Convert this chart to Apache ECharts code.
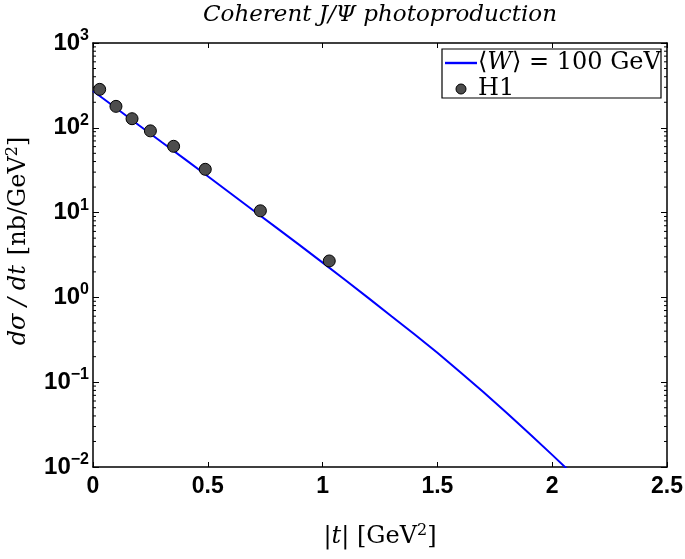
<!DOCTYPE html>
<html>
<head>
<meta charset="utf-8">
<script src="https://cdn.jsdelivr.net/npm/echarts@6/dist/echarts.min.js"></script>
<style>html,body{margin:0;padding:0;background:#fff}#c{width:685px;height:559px}</style>
</head>
<body>
<div id="c"></div>
<script>
// H1 data points
var h1T = [0.029, 0.100, 0.170, 0.250, 0.351, 0.489, 0.729, 1.029];
var h1Val = [284, 179, 128, 92, 60.5, 32.4, 10.5, 2.69];
var h1Err = [14, 9, 6, 5, 3, 1.6, 0.6, 0.38];
// Model curve <W> = 100 GeV
var curveT = [0, 0.1, 0.2, 0.3, 0.4, 0.5, 0.6, 0.7, 0.8, 0.9, 1.0, 1.1, 1.2, 1.3, 1.4, 1.5, 1.6, 1.7, 1.8, 1.9, 2.0, 2.1];
var curveVal = [272, 171, 107, 67.5, 42.7, 26.8, 16.8, 10.5, 6.6, 4.13, 2.57, 1.59, 0.98, 0.600, 0.368, 0.222, 0.131, 0.0765, 0.0440, 0.0248, 0.0139, 0.0077];
// axis ticks
var xTicks = [0, 0.5, 1, 1.5, 2, 2.5];
var yDecades = [0.01, 0.1, 1, 10, 100, 1000];
var yMinor = [];
for (var d = 0; d < yDecades.length - 1; d++) {
  for (var m = 2; m <= 9; m++) yMinor.push(+(m * yDecades[d]).toPrecision(3));
}

var chart = echarts.init(document.getElementById('c'));
var sup = function (v) {
  var e = Math.round(Math.log10(v));
  var s = e < 0 ? '\u2212' + (-e) : '' + e;
  return '{b|10}{s|' + s + '}';
};
var labelRich = {
  b: {fontFamily: 'Liberation Sans', fontWeight: 'bold', fontSize: 24, color: '#000'},
  s: {fontFamily: 'Liberation Sans', fontWeight: 'bold', fontSize: 16, color: '#000', verticalAlign: 'bottom', padding: [0, 0, 15, 0]}
};
var serif = 'DejaVu Serif';
var nameRich = {
  t: {fontFamily: serif, fontSize: 24, color: '#000'},
  i: {fontFamily: serif, fontStyle: 'italic', fontSize: 24, color: '#000'},
  s: {fontFamily: serif, fontSize: 16, color: '#000', verticalAlign: 'bottom', padding: [0, 0, 11, 0]}
};

var option = {
  animation: false,
  backgroundColor: '#fff',
  grid: {left: 93, right: 18, top: 43, bottom: 92, outerBoundsMode: 'none', containLabel: false},
  graphic: [{
    type: 'rect', x: 442, y: 49, z: 90,
    shape: {x: 0, y: 0, width: 219, height: 49},
    style: {fill: '#fff', stroke: '#000', lineWidth: 1.2}
  }, {
    type: 'text', x: 380, y: 15, z: 100,
    style: {
      text: 'Coherent J/\u03A8 photoproduction',
      font: 'italic 23px "DejaVu Serif"', fill: '#000',
      align: 'center', verticalAlign: 'middle'
    }
  }],
  legend: {
    orient: 'vertical', left: 443, top: 49, z: 95,
    padding: [2, 0, 0, 2],
    itemGap: 2,
    itemWidth: 32, itemHeight: 10,
    data: [
      {name: 'W', icon: 'path://M0,0L32,0L32,2.4L0,2.4Z', itemStyle: {color: '#0000ff'}},
      {name: 'H1', icon: 'circle', itemStyle: {color: '#4d4d4d', borderColor: '#000', borderWidth: 1}}
    ],
    formatter: function (n) {
      if (n === 'W') return '{t|\u27E8}{i|W}{t|\u27E9 = 100 GeV}';
      return '{t|H1}';
    },
    textStyle: {
      padding: [0, 0, 0, -4],
      rich: {
        t: {fontFamily: serif, fontSize: 24, color: '#000', lineHeight: 24},
        i: {fontFamily: serif, fontStyle: 'italic', fontSize: 24, color: '#000', lineHeight: 24}
      }
    }
  },
  xAxis: [{
    type: 'value', min: 0, max: 2.5, interval: 0.5,
    position: 'bottom',
    name: '{t||}{i|t}{t|| [GeV}{s|2}{t|]}',
    nameLocation: 'middle', nameGap: 56,
    nameTextStyle: {rich: nameRich},
    axisLine: {show: true, onZero: false, lineStyle: {color: '#000', width: 1.5}},
    axisTick: {show: true, inside: true, length: 5, lineStyle: {color: '#000'}},
    axisLabel: {
      margin: 8, fontFamily: 'Liberation Sans', fontWeight: 'bold', fontSize: 23, color: '#000',
      formatter: function (v) { return String(v); }
    },
    splitLine: {show: false}
  }, {
    type: 'value', min: 0, max: 2.5, interval: 0.5, position: 'top',
    axisLine: {show: true, onZero: false, lineStyle: {color: '#000', width: 1.5}},
    axisTick: {show: true, inside: true, length: 5, lineStyle: {color: '#000'}},
    axisLabel: {show: false}, splitLine: {show: false}
  }],
  yAxis: [{
    type: 'log', logBase: 10, min: 0.01, max: 1000,
    position: 'left',
    name: '{i|d\u03C3 / dt}   {t|[nb/GeV}{s|2}{t|]}',
    nameLocation: 'middle', nameGap: 61, nameRotate: 90,
    nameTextStyle: {rich: nameRich, padding: [0, 0, 0, 28]},
    axisLine: {show: true, onZero: false, lineStyle: {color: '#000', width: 1.5}},
    axisTick: {show: true, inside: true, length: 6, lineStyle: {color: '#000'}},
    axisLabel: {margin: 4, formatter: sup, rich: labelRich},
    splitLine: {show: false}
  }, {
    type: 'log', logBase: 10, min: 0.01, max: 1000, position: 'right',
    axisLine: {show: true, onZero: false, lineStyle: {color: '#000', width: 1.5}},
    axisTick: {show: true, inside: true, length: 6, lineStyle: {color: '#000'}},
    axisLabel: {show: false}, splitLine: {show: false}
  }],
  series: [{
    type: 'custom',
    name: 'minorTicks',
    silent: true,
    xAxisIndex: 0, yAxisIndex: 0,
    data: yMinor.map(function (v) { return [0, v]; }),
    renderItem: function (params, api) {
      var p0 = api.coord([0, api.value(1)]);
      var p1 = api.coord([2.5, api.value(1)]);
      var st = {stroke: '#000', lineWidth: 1};
      return {type: 'group', children: [
        {type: 'line', shape: {x1: p0[0], y1: p0[1], x2: p0[0] + 3, y2: p0[1]}, style: st},
        {type: 'line', shape: {x1: p1[0], y1: p1[1], x2: p1[0] - 3, y2: p1[1]}, style: st}
      ]};
    },
    clip: false, z: 1
  }, {
    name: 'W',
    type: 'line',
    data: curveT.map(function (t, i) { return [t, curveVal[i]]; }),
    symbol: 'none',
    smooth: false,
    clip: true,
    lineStyle: {color: '#0000ff', width: 2},
    itemStyle: {color: '#0000ff'},
    z: 3
  }, {
    type: 'custom',
    name: 'errors',
    data: h1T.map(function (t, i) { return [t, h1Val[i] - h1Err[i], h1Val[i] + h1Err[i]]; }),
    renderItem: function (params, api) {
      var lo = api.coord([api.value(0), api.value(1)]);
      var hi = api.coord([api.value(0), api.value(2)]);
      var st = {stroke: '#000', lineWidth: 1.5};
      return {type: 'group', children: [
        {type: 'line', shape: {x1: lo[0], y1: lo[1], x2: hi[0], y2: hi[1]}, style: st}
      ]};
    },
    z: 4
  }, {
    name: 'H1',
    type: 'scatter',
    data: h1T.map(function (t, i) { return [t, h1Val[i]]; }),
    symbol: 'circle',
    symbolSize: 12,
    itemStyle: {color: '#4d4d4d', borderColor: '#000', borderWidth: 1, opacity: 1},
    z: 5
  }]
};
chart.setOption(option);
</script>
</body>
</html>
